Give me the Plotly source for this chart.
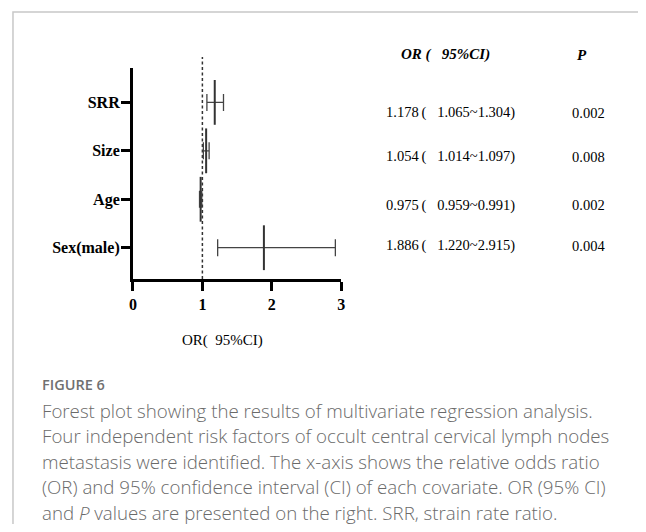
import plotly.graph_objects as go

# ---- data ----
factors = ["SRR", "Size", "Age", "Sex(male)"]
odds_ratio = [1.178, 1.054, 0.975, 1.886]
ci_low = [1.065, 1.014, 0.959, 1.220]
ci_high = [1.304, 1.097, 0.991, 2.915]
p_values = ["0.002", "0.008", "0.002", "0.004"]
x_ticks = [0, 1, 2, 3]

caption_title = "FIGURE 6"
caption_lines = [
    "Forest plot showing the results of multivariate regression analysis.",
    "Four independent risk factors of occult central cervical lymph nodes",
    "metastasis were identified. The x-axis shows the relative odds ratio",
    "(OR) and 95% confidence interval (CI) of each covariate. OR (95% CI)",
    "and <i>P</i> values are presented on the right. SRR, strain rate ratio.",
]

# page body has an 8px margin, so the figure is sized to fit the window
OFF = 8
W, H = 646 - 2 * OFF, 532 - 2 * OFF
def px(x):
    return (x - OFF) / W
def py(y):
    return 1 - (y - OFF) / H

SERIF = "Liberation Serif, Times New Roman, serif"
SANS = "Open Sans, Lato, sans-serif"
NB = "\u00a0"
EN = "\u2002"
TH = "\u2009"

fig = go.Figure()
fig.add_trace(go.Scatter(
    x=odds_ratio, y=factors, mode="markers",
    marker=dict(symbol="line-ns-open", size=32, line=dict(width=2, color="#333333"), color="#333333"),
    error_x=dict(type="data", symmetric=False,
                 array=[h - o for h, o in zip(ci_high, odds_ratio)],
                 arrayminus=[o - l for o, l in zip(odds_ratio, ci_low)],
                 color="#444444", thickness=1.3, width=8.5),
    showlegend=False, hoverinfo="skip", cliponaxis=False,
))

x0p, x1p = 130.5, 341.5
ytop, ybot = 68, 279
fig.update_layout(
    width=W, height=H, margin=dict(l=0, r=0, t=0, b=0),
    paper_bgcolor="white", plot_bgcolor="white",
    xaxis=dict(domain=[px(x0p), px(x1p)], range=[0, 3], tickvals=x_ticks,
               ticks="outside", ticklen=9, tickwidth=2.5, tickcolor="black",
               showline=True, linewidth=3, linecolor="black",
               showgrid=False, zeroline=False,
               tickfont=dict(family=SERIF, size=16, color="black", weight="bold")),
    yaxis=dict(domain=[py(ybot), py(ytop)], type="category",
               categoryorder="array", categoryarray=factors[::-1],
               range=[-0.646, 3.71],
               ticks="outside", ticklen=9, tickwidth=2.5, tickcolor="black",
               showline=True, linewidth=3, linecolor="black",
               showgrid=False, zeroline=False, ticklabelstandoff=-2,
               tickfont=dict(family=SERIF, size=16, color="black", weight="bold")),
)

# reference line at OR = 1
fig.add_shape(type="line", xref="x", yref="paper", x0=1, x1=1, y0=py(ybot), y1=py(57),
              line=dict(color="#333333", width=1.5, dash="3px,2.5px"), layer="below")

# frame border
fig.add_shape(type="path", xref="paper", yref="paper",
              path=f"M {px(9)},{py(540)} L {px(9)},{py(12)} L {px(660)},{py(12)}",
              line=dict(color="#c8c8c8", width=1.5))

ann = []
# x axis title
ann.append(dict(x=px(221.5), y=py(340), xref="paper", yref="paper",
                text="OR(" + EN + "95%CI)",
                showarrow=False, xanchor="center", yanchor="middle",
                font=dict(family=SERIF, size=15, color="black")))
# table header
ann.append(dict(x=px(400), y=py(55), xref="paper", yref="paper",
                text="<b><i>OR" + NB + "(" + EN + NB + "95%CI)</i></b>",
                showarrow=False, xanchor="left", yanchor="middle",
                font=dict(family=SERIF, size=15, color="black")))
ann.append(dict(x=px(578), y=py(55), xref="paper", yref="paper", text="<b><i>P</i></b>",
                showarrow=False, xanchor="left", yanchor="middle",
                font=dict(family=SERIF, size=15, color="black")))
row_y = [112.7, 156.7, 205, 246]
for i in range(len(factors)):
    txt = f"{odds_ratio[i]:.3f}" + TH + "(" + EN + NB + f"{ci_low[i]:.3f}~{ci_high[i]:.3f})"
    ann.append(dict(x=px(385), y=py(row_y[i]), xref="paper", yref="paper", text=txt,
                    showarrow=False, xanchor="left", yanchor="middle",
                    font=dict(family=SERIF, size=14.5, color="black")))
    ann.append(dict(x=px(573), y=py(row_y[i]), xref="paper", yref="paper", text=p_values[i],
                    showarrow=False, xanchor="left", yanchor="middle",
                    font=dict(family=SERIF, size=14.5, color="black")))
# caption
ann.append(dict(x=px(36), y=py(384), xref="paper", yref="paper", text=caption_title,
                showarrow=False, xanchor="left", yanchor="middle",
                font=dict(family=SANS, size=14.5, color="#707070", weight=600)))
for i, line in enumerate(caption_lines):
    ann.append(dict(x=px(36), y=py(410 + 25.5 * i), xref="paper", yref="paper", text=line,
                    showarrow=False, xanchor="left", yanchor="middle",
                    font=dict(family=SANS, size=18.7, color="#6a6a6a", weight=300)))
fig.update_layout(annotations=ann)

fig.write_html("out.html")
